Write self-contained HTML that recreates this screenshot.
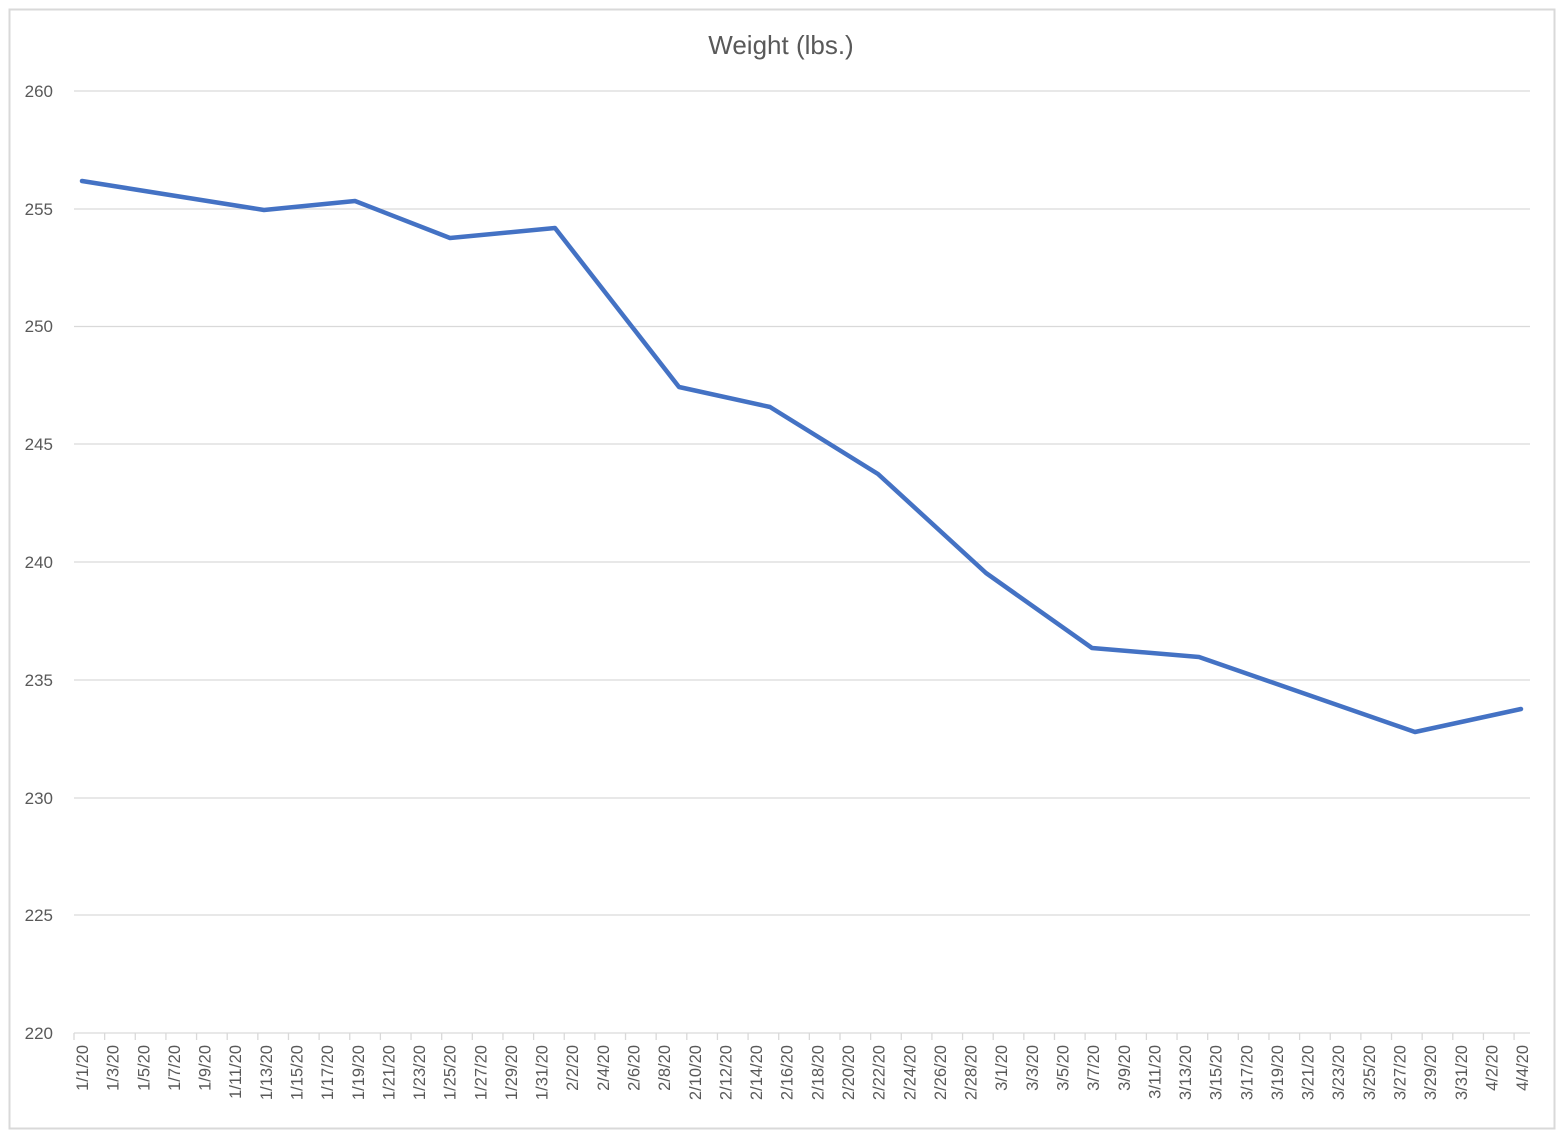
<!DOCTYPE html>
<html><head><style>
html,body{margin:0;padding:0;background:#fff;}
svg{display:block;font-family:"Liberation Sans",Calibri,sans-serif;}
</style></head><body>
<svg width="1567" height="1139" viewBox="0 0 1567 1139">
<rect x="0" y="0" width="1567" height="1139" fill="#fff"/>
<rect x="9.5" y="9.5" width="1545" height="1119" fill="#fff" stroke="#d9d9d9" stroke-width="2"/>
<text x="781" y="54" text-anchor="middle" font-size="26" fill="#595959">Weight (lbs.)</text>
<g stroke="#d9d9d9" stroke-width="1.3">
<line x1="74" x2="1530" y1="91" y2="91"/>
<line x1="74" x2="1530" y1="209" y2="209"/>
<line x1="74" x2="1530" y1="326.5" y2="326.5"/>
<line x1="74" x2="1530" y1="444" y2="444"/>
<line x1="74" x2="1530" y1="562" y2="562"/>
<line x1="74" x2="1530" y1="680" y2="680"/>
<line x1="74" x2="1530" y1="798" y2="798"/>
<line x1="74" x2="1530" y1="915" y2="915"/>
<line x1="74" x2="1530" y1="1033" y2="1033"/>
</g>
<g font-size="17" fill="#595959" text-anchor="end">
<text x="53" y="97">260</text><text x="53" y="215">255</text><text x="53" y="332">250</text>
<text x="53" y="450">245</text><text x="53" y="568">240</text><text x="53" y="686">235</text>
<text x="53" y="804">230</text><text x="53" y="921">225</text><text x="53" y="1039">220</text>
</g>
<g id="ticks" stroke="#d9d9d9" stroke-width="1.3"></g>
<g id="labels" font-size="16.5" fill="#595959" text-anchor="end"></g>
<polyline fill="none" stroke="#4472c4" stroke-width="4.5" stroke-linejoin="round" stroke-linecap="round"
points="82,181 264,210 355,201 450,238 555,228 679,387 770,407 878,474 986,573 1092,648 1199,657 1415,732 1521,709"/>
</svg>
<script>
var L=["1/1/20","1/3/20","1/5/20","1/7/20","1/9/20","1/11/20","1/13/20","1/15/20","1/17/20","1/19/20","1/21/20","1/23/20","1/25/20","1/27/20","1/29/20","1/31/20","2/2/20","2/4/20","2/6/20","2/8/20","2/10/20","2/12/20","2/14/20","2/16/20","2/18/20","2/20/20","2/22/20","2/24/20","2/26/20","2/28/20","3/1/20","3/3/20","3/5/20","3/7/20","3/9/20","3/11/20","3/13/20","3/15/20","3/17/20","3/19/20","3/21/20","3/23/20","3/25/20","3/27/20","3/29/20","3/31/20","4/2/20","4/4/20"];
var ns="http://www.w3.org/2000/svg",t=document.getElementById("ticks"),g=document.getElementById("labels");
for(var i=0;i<48;i++){var x=74+i*30.64;
var l=document.createElementNS(ns,"line");l.setAttribute("x1",x);l.setAttribute("x2",x);l.setAttribute("y1",1033);l.setAttribute("y2",1040);t.appendChild(l);
var tx=document.createElementNS(ns,"text");tx.setAttribute("transform","translate("+(x+14)+",1045) rotate(-90)");tx.textContent=L[i];g.appendChild(tx);}
</script>
</body></html>
